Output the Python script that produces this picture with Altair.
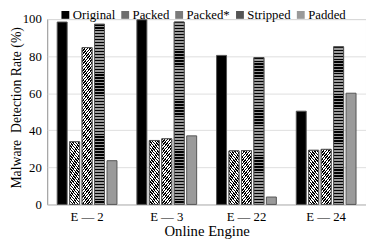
import altair as alt
import pandas as pd

engines = ["E — 2", "E — 3", "E — 22", "E — 24"]
methods = ["Original", "Packed", "Packed*", "Stripped", "Padded"]
original = [98.4, 99.6, 80.4, 50.3]
packed = [33.8, 34.5, 28.9, 29.2]
packed_star = [84.6, 35.4, 29.0, 29.7]
stripped = [97.2, 98.4, 79.2, 85.0]
padded = [23.6, 37.0, 4.0, 60.0]

series = dict(zip(methods, [original, packed, packed_star, stripped, padded]))
rows = []
for m in methods:
    for e, v in zip(engines, series[m]):
        rows.append({"engine": e, "method": m, "rate": v})
df = pd.DataFrame(rows)

FONT = "Liberation Serif"
W, H = 325, 189
PI_X, PI_O = 0.25, 0.2
step = W / (len(engines) - PI_X + 2 * PI_X / 2)
band = step * (1 - PI_X)
bar_w = band / (len(methods) - PI_O)


def stripe_stops(n, c1, c2, frac):
    stops = []
    for i in range(n):
        a = i / n
        b = (i + frac) / n
        c = (i + 1) / n
        stops += [{"offset": a, "color": c1}, {"offset": b, "color": c1},
                  {"offset": b, "color": c2}, {"offset": c, "color": c2}]
    return stops


def diag_grad(w, h, direction, period, c1, c2, frac):
    c = (w + h) / (w * w + h * h)
    n = max(1, round((w + h) / period))
    if direction == "back":  # "\\" stripes
        x1, y1, x2, y2 = 0, 1, c * w, 1 - c * h
    else:  # "/" stripes
        x1, y1, x2, y2 = 0, 0, c * w, c * h
    return {"gradient": "linear", "x1": x1, "y1": y1, "x2": x2, "y2": y2,
            "stops": stripe_stops(n, c1, c2, frac)}


def horiz_grad(h, period, c1, c2, frac):
    n = max(1, round(h / period))
    return {"gradient": "linear", "x1": 0, "y1": 0, "x2": 0, "y2": 1,
            "stops": stripe_stops(n, c1, c2, frac)}


def fill_for(method, w, h):
    if method == "Packed":
        return diag_grad(w, h, "back", 3.4, "#000000", "#ffffff", 0.5)
    if method == "Packed*":
        return diag_grad(w, h, "fwd", 3.4, "#000000", "#ffffff", 0.5)
    return horiz_grad(h, 3.0, "#000000", "#9a9a9a", 0.45)


base_colors = ["#000000", "#6e6e6e", "#7a7a7a", "#555555", "#9a9a9a"]

x_enc = alt.X("engine:N", sort=engines,
              scale=alt.Scale(domain=engines, paddingInner=PI_X, paddingOuter=PI_X / 2),
              axis=alt.Axis(title="Online Engine", labelAngle=0, ticks=False, domain=False,
                            labelPadding=6, titlePadding=1))
xo_enc = alt.XOffset("method:N", scale=alt.Scale(domain=methods, paddingInner=PI_O, paddingOuter=0))
y_enc = alt.Y("rate:Q", scale=alt.Scale(domain=[0, 100], nice=False),
              axis=alt.Axis(title="Malware\u00a0 Detection Rate (%)", values=[0, 20, 40, 60, 80, 100],
                            ticks=False, domain=False, labelPadding=6,
                            titleX=-24, titleY=90))

base = alt.Chart(df).mark_bar(stroke="#555555", strokeWidth=1).encode(
    x=x_enc, xOffset=xo_enc, y=y_enc,
    color=alt.Color("method:N", scale=alt.Scale(domain=methods, range=base_colors),
                    legend=alt.Legend(title=None, orient="none", direction="horizontal",
                                      legendX=12, legendY=-11, symbolType="square",
                                      symbolSize=64, symbolStrokeWidth=0, labelOffset=1,
                                      columnPadding=3, padding=0, symbolOpacity=1,
                                      labelFont=FONT, labelFontSize=13, labelColor="#000000")),
)

layers = [base]
for m in ["Packed", "Packed*", "Stripped"]:
    for e, v in zip(engines, series[m]):
        h = v / 100 * H
        layers.append(
            alt.Chart(df).transform_filter(
                (alt.datum.engine == e) & (alt.datum.method == m)
            ).mark_bar(fill=fill_for(m, bar_w, h), stroke="#555555", strokeWidth=1).encode(
                x=x_enc, xOffset=xo_enc, y=y_enc)
        )

chart = alt.layer(*layers).properties(
    width=W, height=H,
    autosize=alt.AutoSizeParams(type="none"),
    padding={"left": 40, "top": 9, "right": 0, "bottom": 35},
).configure(font=FONT).configure_view(stroke="#8c8c8c", strokeWidth=1).configure_axis(
    labelFont=FONT, labelFontSize=13, labelColor="#000000",
    titleFont=FONT, titleFontSize=15, titleFontWeight="normal", titleColor="#000000",
    gridColor="#dedede", gridWidth=1,
).configure_axisY(titleFontSize=14).configure_axisX(grid=False).configure_legend(
    labelFont=FONT)

chart.save("out.html", embed_options={"renderer": "svg", "actions": False})
